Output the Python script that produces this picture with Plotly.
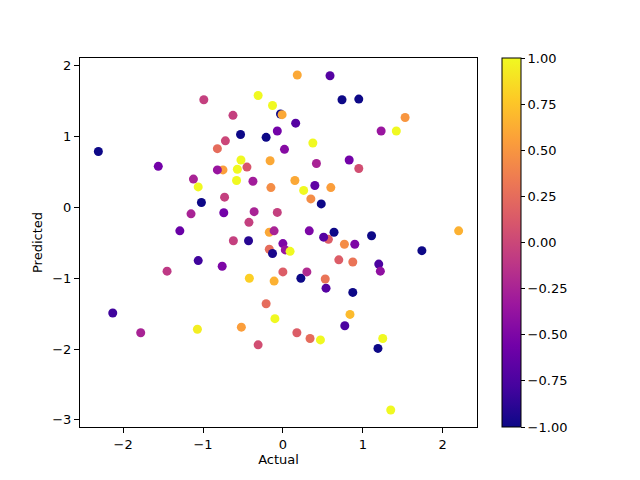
import plotly.graph_objects as go

# values
actual = [-2.31, -2.13, -1.78, -1.56, -1.45, -1.29, -1.15, -1.12, -1.06, -1.07,
          -1.06, -1.02, -0.99, -0.82, -0.75, -0.82, -0.74, -0.76, -0.73, -0.72,
          -0.625, -0.62, -0.58, -0.57, -0.525, -0.53, -0.52, -0.45, -0.43, -0.425,
          -0.42, -0.375, -0.36, -0.31, -0.31, -0.21, -0.21, -0.17, -0.11, -0.17,
          -0.13, -0.16, -0.15, -0.13, -0.11, -0.10, -0.07, -0.07, -0.03, -0.01,
          0.0, 0.03, 0.0, 0.02, 0.09, 0.15, 0.16, 0.18, 0.175, 0.225,
          0.26, 0.30, 0.33, 0.34, 0.35, 0.375, 0.40, 0.42, 0.47, 0.48,
          0.57, 0.51, 0.53, 0.54, 0.59, 0.6, 0.64, 0.70, 0.74, 0.77,
          0.775, 0.83, 0.84, 0.875, 0.875, 0.90, 0.95, 0.95, 1.11, 1.19,
          1.2, 1.22, 1.23, 1.25, 1.35, 1.42, 1.53, 1.74, 2.2]
predicted = [0.79, -1.49, -1.77, 0.58, -0.90, -0.33, -0.09, 0.40, 0.29, -1.72,
             -0.75, 0.07, 1.52, 0.83, 0.53, 0.53, -0.075, -0.83, 0.145, 0.94,
             1.30, -0.47, 0.38, 0.54, 0.67, 1.03, -1.69, 0.57, -0.47, -0.21,
             -1.0, 0.37, -0.06, 1.58, -1.94, 0.99, -1.36, -0.35, -0.33, -0.59,
             -0.65, 0.66, 0.28, 1.44, -1.04, -1.57, 1.08, -0.07, 1.32, 1.31,
             -0.51, -0.60, -0.91, 0.82, -0.62, 0.38, 1.19, 1.87, -1.77, -1.0,
             0.24, -0.91, -0.33, -1.85, 0.12, 0.91, 0.31, 0.62, -1.87, 0.05,
             -0.45, -0.42, -1.01, -1.14, 1.86, 0.28, -0.35, -0.74, 1.52, -0.52,
             -1.67, 0.67, -1.51, -0.77, -1.2, -0.52, 1.53, 0.55, -0.40, -1.99,
             -0.80, -0.90, 1.08, -1.85, -2.86, 1.08, 1.27, -0.61, -0.33]
colour_value = [-1.0, -0.8, -0.25, -0.55, -0.1, -0.6, -0.25, -0.25, 1.0, 0.95,
                -0.8, -1.0, -0.05, 0.25, 0.55, -0.35, -0.55, -0.5, -0.05, 0.0,
                -0.05, -0.05, 1.0, 1.0, 1.0, -1.0, 0.55, 0.1, -0.9, -0.05,
                0.8, -0.3, -0.25, 1.0, 0.05, -1.0, 0.25, 0.6, -0.25, 0.25,
                -0.95, 0.6, 0.45, 1.0, 0.65, 1.0, -0.55, -0.05, -1.0, 0.6,
                -0.5, -0.35, 0.15, -0.45, 1.0, 0.6, -0.7, 0.6, 0.15, -1.0,
                1.0, -0.2, -0.5, 0.25, 0.45, 1.0, -0.65, -0.25, 1.0, -1.0,
                0.15, -0.7, 0.3, -0.7, -0.7, 0.55, -1.0, 0.15, -1.0, 0.45,
                -0.75, -0.55, 0.7, 0.3, -1.0, -0.5, -1.0, 0.05, -1.0, -1.0,
                -0.75, -0.4, -0.35, 1.0, 1.0, 1.0, 0.5, -1.0, 0.65]
cbar_ticks = [-1, -0.75, -0.5, -0.25, 0, 0.25, 0.5, 0.75, 1]
cbar_labels = ['−1.00', '−0.75', '−0.50', '−0.25', '0.00', '0.25', '0.50', '0.75', '1.00']

fig = go.Figure()
fig.add_trace(go.Scatter(
    x=actual, y=predicted, mode='markers',
    marker=dict(size=9, color=colour_value, colorscale='Plasma', cmin=-1, cmax=1,
                line=dict(width=0),
                colorbar=dict(x=1.038, xanchor='left', xpad=10, y=0.5, yanchor='middle',
                              len=1, lenmode='fraction', ypad=0, thickness=19,
                              outlinecolor='black', outlinewidth=1,
                              tickvals=cbar_ticks, ticktext=cbar_labels,
                              ticks='outside', ticklen=4, tickcolor='black',
                              tickfont=dict(size=13, color='black'))),
    showlegend=False))

axis_style = dict(showgrid=False, zeroline=False, showline=True, linecolor='black',
                  linewidth=1, mirror=True, ticks='outside', ticklen=5,
                  tickcolor='black', tickfont=dict(size=13, color='black'),
                  automargin=False)

# page body has an 8px margin, so the margins are shifted to compensate
fig.update_layout(width=640, height=480,
                  margin=dict(l=72, r=171, t=50, b=61),
                  plot_bgcolor='white', paper_bgcolor='white',
                  font=dict(family='DejaVu Sans', size=13, color='black'),
                  xaxis=dict(range=[-2.54, 2.43], tickvals=[-2, -1, 0, 1, 2],
                             ticktext=['−2', '−1', '0', '1', '2'],
                             title=dict(text='Actual', standoff=4, font=dict(size=13)),
                             **axis_style),
                  yaxis=dict(range=[-3.10, 2.11], tickvals=[-3, -2, -1, 0, 1, 2],
                             ticktext=['−3', '−2', '−1', '0', '1', '2'],
                             title=dict(text='Predicted', standoff=6, font=dict(size=13)),
                             **axis_style))

fig.write_html("out.html")
